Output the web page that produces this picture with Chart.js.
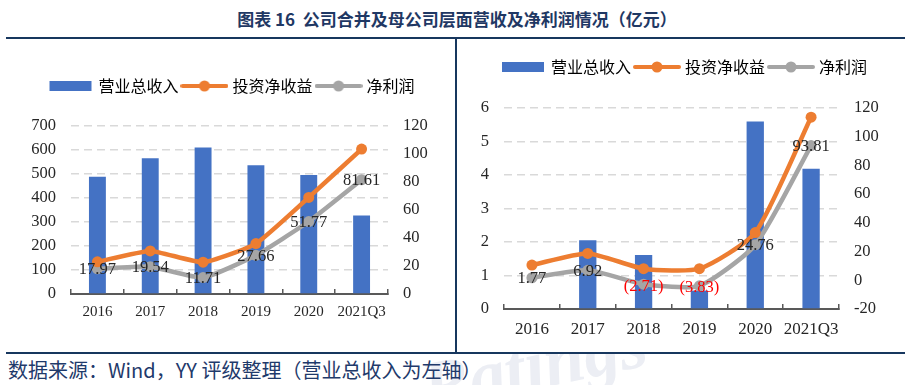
<!DOCTYPE html>
<html>
<head>
<meta charset="utf-8">
<script src="https://cdn.jsdelivr.net/npm/chart.js@4.4.0/dist/chart.umd.min.js"></script>
<style>
  html, body { margin: 0; padding: 0; background: #fff; }
  body { width: 914px; height: 385px; position: relative; overflow: hidden; font-family: "Noto Sans CJK SC", sans-serif; }
  .title { position: absolute; top: 6px; left: 0; width: 914px; text-align: center; font-size: 17px; font-weight: bold; color: #1f3864; line-height: 26px; }
  .rule { position: absolute; background: #17375e; }
  .box { position: absolute; top: 40px; height: 310px; }
  .wm-strip { position: absolute; left: 0; top: 354px; width: 914px; height: 31px; overflow: hidden; }
  .wm { position: absolute; left: 420px; top: -30px; font: italic bold 72px "Liberation Serif"; color: #eceef4; transform: rotate(-12deg); white-space: nowrap; }
  .source { position: absolute; left: 8px; top: 356px; font-size: 20px; color: #1f3a6b; line-height: 28px; white-space: nowrap; }
</style>
</head>
<body>
<div class="title">图表 16&nbsp;&nbsp;公司合并及母公司层面营收及净利润情况（亿元）</div>
<div class="rule" style="left:6px; top:37px; width:899px; height:2px;"></div>
<div class="rule" style="left:455px; top:38px; width:2px; height:315px;"></div>
<div class="rule" style="left:6px; top:352px; width:899px; height:2px;"></div>
<div class="box" style="left:0; width:455px;"><canvas id="consChart" width="455" height="310"></canvas></div>
<div class="box" style="left:460px; width:450px;"><canvas id="parentChart" width="450" height="310"></canvas></div>
<div class="wm-strip"><div class="wm">Ratings</div></div>
<div class="source">数据来源：Wind，YY 评级整理（营业总收入为左轴）</div>

<script>
// 年份
const years = ['2016', '2017', '2018', '2019', '2020', '2021Q3'];
const seriesNames = ['营业总收入', '投资净收益', '净利润'];

// 合并口径（左图）
const consRevenue = [489, 566, 610, 536, 496, 327];
const consInvest = [23.0, 30.8, 22.7, 36.0, 69.0, 103.5];
const consProfit = [17.97, 19.54, 11.71, 27.66, 51.77, 81.61];

// 母公司口径（右图）
const parentRevenue = [0, 2.05, 1.61, 0.55, 5.6, 4.19];
const parentInvest = [10.6, 18.7, 8.1, 8.1, 33.2, 113.6];
const parentProfit = [1.77, 6.92, -2.71, -3.83, 24.76, 93.81];

// 坐标轴范围 [min, max, step]
const consLeftAxis = [0, 700, 100];
const consRightAxis = [0, 120, 20];
const parentLeftAxis = [0, 6, 1];
const parentRightAxis = [-20, 120, 20];

const BLUE = '#4472c4';
const ORANGE = '#ed7d31';
const GRAY = '#a5a5a5';
const serif = '"Liberation Serif", "Times New Roman", serif';

// 图例标记
function legendMark(kind, color) {
    const c = document.createElement('canvas');
    c.width = 48;
    c.height = 12;
    const g = c.getContext('2d');
    g.fillStyle = color;
    g.strokeStyle = color;
    if (kind === 'bar') {
        g.fillRect(3, 1, 42, 10);
    } else {
        g.lineWidth = 4;
        g.lineCap = 'round';
        g.beginPath();
        g.moveTo(2, 6);
        g.lineTo(46, 6);
        g.stroke();
        g.beginPath();
        g.arc(24, 6, 5.5, 0, Math.PI * 2);
        g.fill();
    }
    return c;
}
const marks = [legendMark('bar', BLUE), legendMark('line', ORANGE), legendMark('line', GRAY)];

// 图例下方留白
function legendGap(extra) {
    return {
        id: 'legendGap',
        beforeInit(chart) {
            const lg = chart.legend;
            const fit = lg.fit;
            lg.fit = function () {
                fit.call(lg);
                this.height += extra;
            };
        },
    };
}

// 净利润数据标签
const profitLabels = {
    id: 'profitLabels',
    afterDatasetsDraw(chart) {
        const ctx = chart.ctx;
        const meta = chart.getDatasetMeta(2);
        const vals = chart.data.datasets[2].data;
        ctx.save();
        ctx.font = '16.5px ' + serif;
        ctx.textAlign = 'center';
        ctx.textBaseline = 'middle';
        meta.data.forEach((pt, i) => {
            const v = vals[i];
            ctx.fillStyle = v < 0 ? '#ff0000' : '#262626';
            const txt = v < 0 ? '(' + Math.abs(v).toFixed(2) + ')' : v.toFixed(2);
            ctx.fillText(txt, pt.x, pt.y + (v < 0 ? 2 : 1));
        });
        ctx.restore();
    },
};

function makeChart(id, cfg) {
    const ctx = document.getElementById(id).getContext('2d');
    return new Chart(ctx, {
        type: 'bar',
        data: {
            labels: years,
            datasets: [
                {
                    label: seriesNames[0],
                    data: cfg.revenue,
                    backgroundColor: BLUE,
                    barPercentage: cfg.barPct,
                    categoryPercentage: 1,
                    yAxisID: 'y',
                    order: 3,
                },
                {
                    type: 'line',
                    label: seriesNames[1],
                    data: cfg.invest,
                    borderColor: ORANGE,
                    backgroundColor: ORANGE,
                    borderWidth: 4.5,
                    pointRadius: 5.5,
                    pointBorderWidth: 0,
                    tension: cfg.tension,
                    yAxisID: 'y1',
                    order: 1,
                },
                {
                    type: 'line',
                    label: seriesNames[2],
                    data: cfg.profit,
                    borderColor: GRAY,
                    backgroundColor: GRAY,
                    borderWidth: 4.5,
                    pointRadius: 5.5,
                    pointBorderWidth: 0,
                    tension: cfg.tension,
                    yAxisID: 'y1',
                    order: 2,
                },
            ],
        },
        options: {
            responsive: false,
            animation: false,
            layout: { padding: cfg.padding },
            plugins: {
                tooltip: { enabled: false },
                legend: {
                    labels: {
                        usePointStyle: true,
                        pointStyleWidth: 40,
                        padding: 6,
                        color: '#404040',
                        font: { family: 'Noto Sans CJK SC', size: 16 },
                        generateLabels: chart => chart.data.datasets.map((ds, i) => ({
                            text: ds.label,
                            pointStyle: marks[i],
                            datasetIndex: i,
                            hidden: false,
                            lineWidth: 0,
                            fillStyle: ds.backgroundColor,
                            strokeStyle: ds.backgroundColor,
                        })),
                    },
                },
            },
            scales: {
                x: {
                    grid: {
                        drawOnChartArea: false,
                        tickLength: -5,
                        color: '#595959',
                        lineWidth: 1.5,
                    },
                    border: { color: '#595959', width: 2 },
                    ticks: {
                        color: '#262626',
                        padding: cfg.xPad,
                        maxRotation: 0,
                        minRotation: 0,
                        autoSkip: false,
                        font: { family: serif, size: cfg.xFont },
                    },
                    afterFit: s => { s.height = cfg.xHeight; },
                },
                y: {
                    position: 'left',
                    min: cfg.left[0],
                    max: cfg.left[1],
                    ticks: { stepSize: cfg.left[2], color: '#262626', padding: 15, font: { family: serif, size: 16.5 } },
                    grid: { color: '#d9d9d9', lineWidth: 1.5, drawTicks: false },
                    border: { display: false, dash: [8, 5] },
                    afterFit: s => { s.width = cfg.leftWidth; },
                },
                y1: {
                    position: 'right',
                    min: cfg.right[0],
                    max: cfg.right[1],
                    ticks: { stepSize: cfg.right[2], color: '#262626', padding: 15, font: { family: serif, size: 16.5 } },
                    grid: { drawOnChartArea: false, drawTicks: false },
                    border: { display: false },
                    afterFit: s => { s.width = cfg.rightWidth; },
                },
            },
        },
        plugins: [legendGap(cfg.legendGap), profitLabels],
    });
}

// 左图：合并口径
makeChart('consChart', {
    revenue: consRevenue,
    invest: consInvest,
    profit: consProfit,
    left: consLeftAxis,
    right: consRightAxis,
    barPct: 0.32,
    tension: 0.15,
    padding: { top: 32, left: 10, right: 0, bottom: 0 },
    legendGap: 22,
    leftWidth: 61,
    rightWidth: 67,
    xHeight: 56,
    xPad: 14,
    xFont: 15,
});

// 右图：母公司口径
makeChart('parentChart', {
    revenue: parentRevenue,
    invest: parentInvest,
    profit: parentProfit,
    left: parentLeftAxis,
    right: parentRightAxis,
    barPct: 0.31,
    tension: 0.2,
    padding: { top: 13, left: 0, right: 0, bottom: 0 },
    legendGap: 23,
    leftWidth: 44,
    rightWidth: 71,
    xHeight: 41,
    xPad: 15,
    xFont: 17,
});
</script>
</body>
</html>
